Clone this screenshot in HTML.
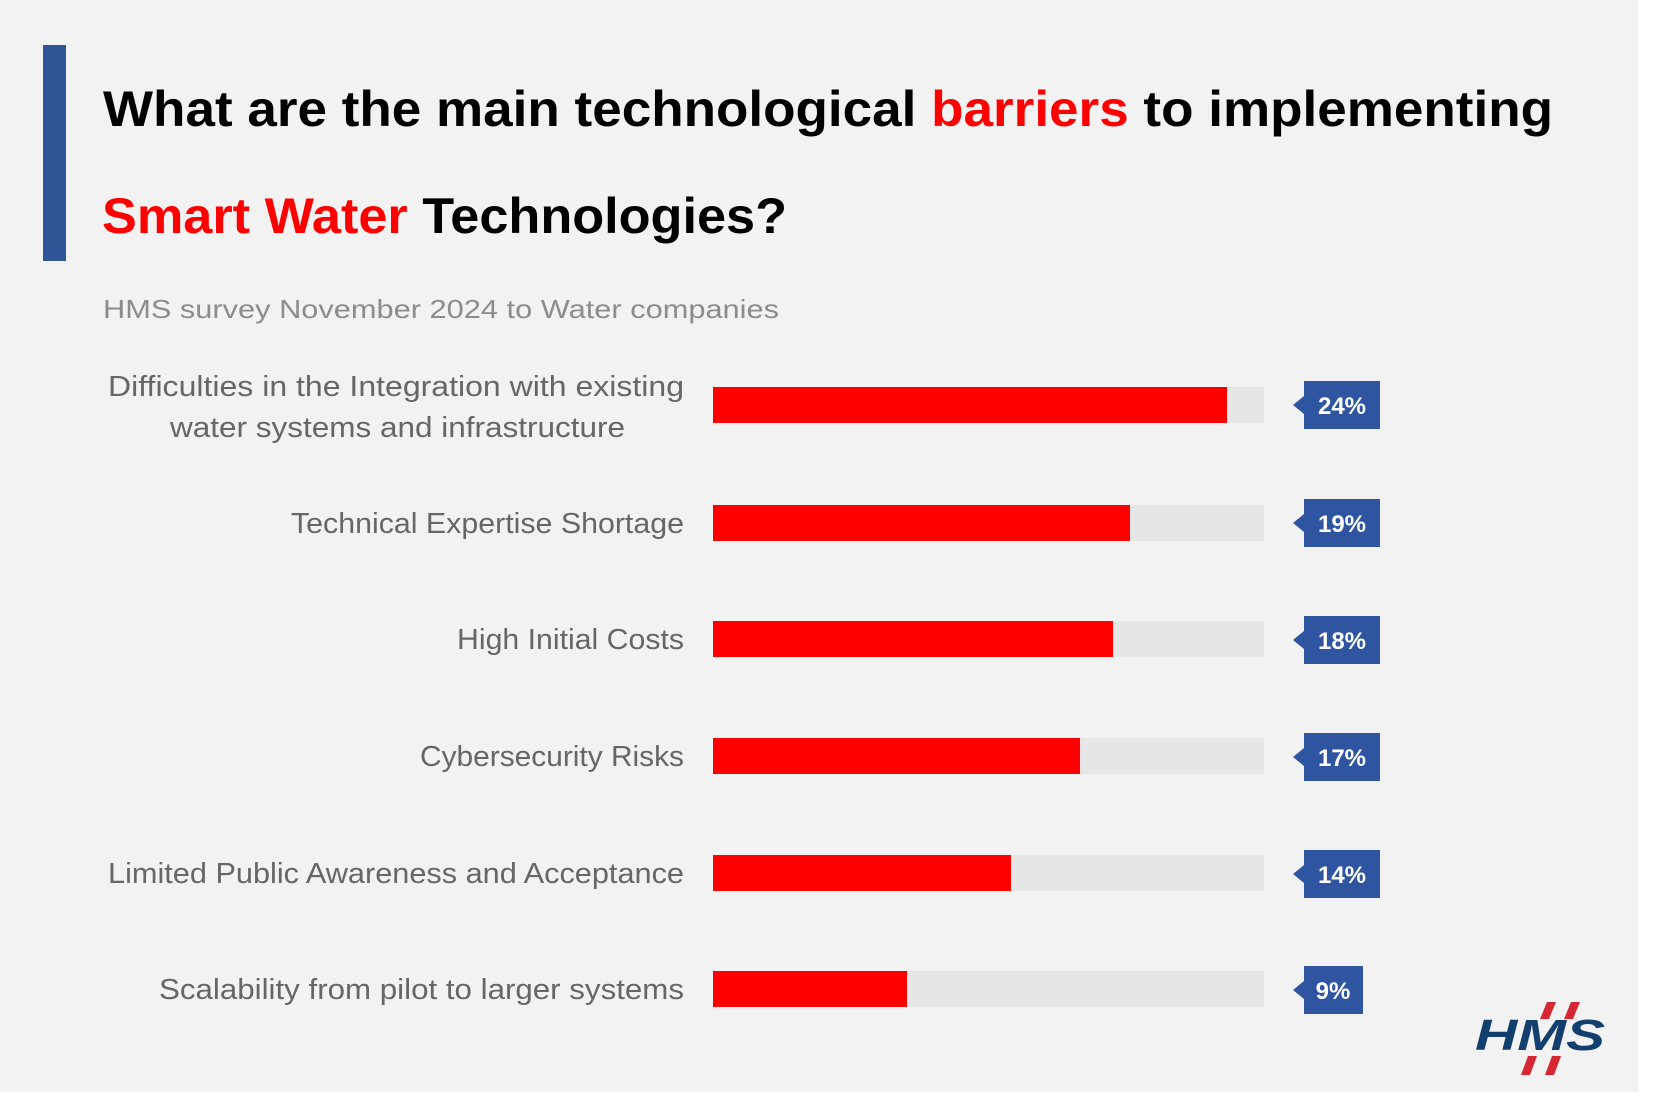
<!DOCTYPE html>
<html><head><meta charset="utf-8"><style>
html,body{margin:0;padding:0;background:#fff;}
svg{display:block;}
</style></head><body>
<svg width="1659" height="1098" xmlns="http://www.w3.org/2000/svg" font-family="Liberation Sans, sans-serif">
<rect x="0" y="0" width="1638" height="1092" fill="#f2f2f2"/>
<rect x="43" y="45" width="23" height="216" fill="#2f5597"/>
<text x="103" y="126" font-size="50" font-weight="bold" fill="#000" textLength="1450" lengthAdjust="spacingAndGlyphs">What are the main technological <tspan fill="#ff0000">barriers</tspan> to implementing</text>
<text x="102" y="233" font-size="50" font-weight="bold" fill="#000" textLength="685" lengthAdjust="spacingAndGlyphs"><tspan fill="#ff0000">Smart Water</tspan> Technologies?</text>
<text x="103" y="318" font-size="26" fill="#8c8c8c" textLength="676" lengthAdjust="spacingAndGlyphs">HMS survey November 2024 to Water companies</text>
<g font-size="29" fill="#666">
<text x="108" y="396" textLength="576" lengthAdjust="spacingAndGlyphs">Difficulties in the Integration with existing</text>
<text x="170" y="437" textLength="455" lengthAdjust="spacingAndGlyphs">water systems and infrastructure</text>
<text x="291" y="533" textLength="393" lengthAdjust="spacingAndGlyphs">Technical Expertise Shortage</text>
<text x="457" y="649" textLength="227" lengthAdjust="spacingAndGlyphs">High Initial Costs</text>
<text x="420" y="766" textLength="264" lengthAdjust="spacingAndGlyphs">Cybersecurity Risks</text>
<text x="108" y="883" textLength="576" lengthAdjust="spacingAndGlyphs">Limited Public Awareness and Acceptance</text>
<text x="159" y="999" textLength="525" lengthAdjust="spacingAndGlyphs">Scalability from pilot to larger systems</text>
</g>
<g transform="translate(-4,0)">
<rect x="717" y="387" width="551" height="36" fill="#e6e6e6"/><rect x="717" y="387" width="514" height="36" fill="#ff0000"/>
<rect x="717" y="505" width="551" height="36" fill="#e6e6e6"/><rect x="717" y="505" width="417" height="36" fill="#ff0000"/>
<rect x="717" y="621" width="551" height="36" fill="#e6e6e6"/><rect x="717" y="621" width="400" height="36" fill="#ff0000"/>
<rect x="717" y="738" width="551" height="36" fill="#e6e6e6"/><rect x="717" y="738" width="367" height="36" fill="#ff0000"/>
<rect x="717" y="855" width="551" height="36" fill="#e6e6e6"/><rect x="717" y="855" width="298" height="36" fill="#ff0000"/>
<rect x="717" y="971" width="551" height="36" fill="#e6e6e6"/><rect x="717" y="971" width="194" height="36" fill="#ff0000"/>
</g>
<g fill="#2f55a0">
<path d="M1304 381h76v48h-76v-15l-11-9 11-9z"/>
<path d="M1304 499h76v48h-76v-15l-11-9 11-9z"/>
<path d="M1304 616h76v48h-76v-15l-11-9 11-9z"/>
<path d="M1304 733h76v48h-76v-15l-11-9 11-9z"/>
<path d="M1304 850h76v48h-76v-15l-11-9 11-9z"/>
<path d="M1304 966h59v48h-59v-15l-11-9 11-9z"/>
</g>
<g font-size="24" font-weight="bold" fill="#fff" text-anchor="middle">
<text x="1342" y="414">24%</text>
<text x="1342" y="532">19%</text>
<text x="1342" y="649">18%</text>
<text x="1342" y="766">17%</text>
<text x="1342" y="883">14%</text>
<text x="1333" y="999">9%</text>
</g>
<g>
<path d="M1547 1002h9l-7 17h-9z M1571 1002h9l-7 17h-9z M1528 1056h9l-7 19h-9z M1552 1056h9l-7 19h-9z" fill="#d62832"/>
<text x="1540" y="1050" font-size="44" font-weight="bold" font-style="italic" fill="#123f6e" text-anchor="middle" textLength="130" lengthAdjust="spacingAndGlyphs">HMS</text>
</g>
</svg>
</body></html>
